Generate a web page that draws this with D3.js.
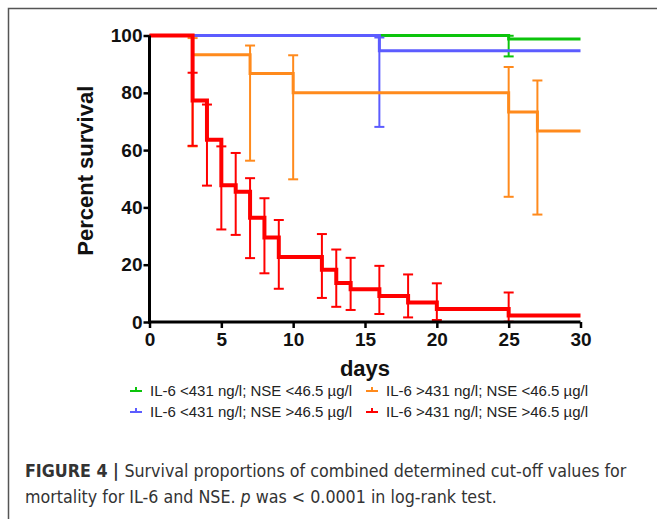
<!DOCTYPE html>
<html>
<head>
<meta charset="utf-8">
<script src="https://cdn.jsdelivr.net/npm/d3@7"></script>
<style>
  body { margin: 0; background: #fff; }
  svg { display: block; }
</style>
</head>
<body>
<div id="container"></div>
<script>
// Kaplan-Meier data (percent survival, 95% CI at each event)
const greenDays = [25];
const greenSurvival = [98.8];
const greenLower = [92.7];
const greenUpper = [99.9];

const blueDays = [16];
const blueSurvival = [94.7];
const blueLower = [68.1];
const blueUpper = [99.3];

const orangeDays = [3, 7, 10, 25, 27];
const orangeSurvival = [93.3, 86.7, 80.0, 73.3, 66.7];
const orangeLower = [61.3, 56.3, 49.8, 43.7, 37.5];
const orangeUpper = [99.1, 96.5, 93.1, 89.0, 84.3];

const redDays = [3, 4, 5, 6, 7, 8, 9, 12, 13, 14, 16, 18, 20, 25];
const redSurvival = [77.3, 63.6, 47.7, 45.5, 36.4, 29.5, 22.7, 18.2, 13.6, 11.4, 9.1, 6.8, 4.5, 2.3];
const redLower = [61.5, 47.6, 32.3, 30.4, 22.3, 17.0, 11.6, 8.4, 5.3, 4.2, 2.8, 1.6, 0.7, 0.1];
const redUpper = [87.0, 75.9, 61.3, 59.0, 50.2, 43.2, 35.6, 30.7, 25.3, 22.4, 19.6, 16.6, 13.5, 10.3];

const seriesLabels = [
    'IL-6 <431 ng/l; NSE <46.5 µg/l',
    'IL-6 <431 ng/l; NSE >46.5 µg/l',
    'IL-6 >431 ng/l; NSE <46.5 µg/l',
    'IL-6 >431 ng/l; NSE >46.5 µg/l'
];
const seriesColors = ['#0cc40c', '#5c5cff', '#ff8a1c', '#ff0000'];

const xTicks = [0, 5, 10, 15, 20, 25, 30];
const yTicks = [0, 20, 40, 60, 80, 100];

const series = [
    { days: greenDays, surv: greenSurvival, lo: greenLower, hi: greenUpper, width: 3 },
    { days: blueDays, surv: blueSurvival, lo: blueLower, hi: blueUpper, width: 3 },
    { days: orangeDays, surv: orangeSurvival, lo: orangeLower, hi: orangeUpper, width: 3 },
    { days: redDays, surv: redSurvival, lo: redLower, hi: redUpper, width: 4 }
];

const W = 657, H = 519;
const x = d3.scaleLinear().domain([0, 30]).range([149.5, 580.5]);
const y = d3.scaleLinear().domain([0, 100]).range([322, 35.5]);

const svg = d3.select('#container').append('svg')
    .attr('width', W)
    .attr('height', H);

// figure frame (open on the right and bottom, as cropped)
svg.append('path')
    .attr('d', `M8.5 ${H} V8.5 H${W}`)
    .style('fill', 'none')
    .style('stroke', '#555')
    .style('stroke-width', 1.5);

const line = d3.line()
    .x((d) => x(d[0]))
    .y((d) => y(d[1]))
    .curve(d3.curveStepAfter);

series.forEach((s, i) => {
    const color = seriesColors[i];
    const pts = [[0, 100]];
    s.days.forEach((d, j) => pts.push([d, s.surv[j]]));
    pts.push([30, s.surv[s.surv.length - 1]]);

    const g = svg.append('g');
    const bars = g.selectAll('g').data(s.days).enter().append('g');
    bars.append('line')
        .attr('x1', (d) => x(d)).attr('x2', (d) => x(d))
        .attr('y1', (d, j) => y(s.lo[j])).attr('y2', (d, j) => y(s.hi[j]));
    bars.append('line')
        .attr('x1', (d) => x(d) - 5).attr('x2', (d) => x(d) + 5)
        .attr('y1', (d, j) => y(s.lo[j])).attr('y2', (d, j) => y(s.lo[j]));
    bars.append('line')
        .attr('x1', (d) => x(d) - 5).attr('x2', (d) => x(d) + 5)
        .attr('y1', (d, j) => y(s.hi[j])).attr('y2', (d, j) => y(s.hi[j]));
    bars.selectAll('line')
        .style('stroke', color)
        .style('stroke-width', 2);

    g.append('path')
        .attr('d', line(pts))
        .style('fill', 'none')
        .style('stroke', color)
        .style('stroke-width', s.width)
        .style('stroke-linejoin', 'miter');
});

// axes
const xAxis = svg.append('g')
    .attr('transform', `translate(0 ${y(0)})`)
    .call(d3.axisBottom(x).tickValues(xTicks).tickSize(6).tickSizeOuter(0).tickPadding(5));
const yAxis = svg.append('g')
    .attr('transform', `translate(${x(0)} 0)`)
    .call(d3.axisLeft(y).tickValues(yTicks).tickSize(6).tickSizeOuter(0).tickPadding(1));

[xAxis, yAxis].forEach((a) => {
    a.select('.domain').style('stroke', '#000').style('stroke-width', 3);
    a.selectAll('.tick line').style('stroke', '#000').style('stroke-width', 2.5);
    a.selectAll('.tick text')
        .style('font-family', '"Liberation Sans", Arial, sans-serif')
        .style('font-weight', 'bold')
        .style('font-size', '19px')
        .style('fill', '#111');
});
xAxis.select('.domain').attr('d', `M${x(0) - 1.5},0H${x(30)}`);
yAxis.select('.domain').attr('d', `M0,${y(0) + 1.5}V${y(100)}`);

svg.append('text')
    .attr('transform', `translate(93 ${(y(0) + y(100)) / 2 - 8}) rotate(-90)`)
    .attr('text-anchor', 'middle')
    .style('font-family', '"Liberation Sans", Arial, sans-serif')
    .style('font-weight', 'bold')
    .style('font-size', '22px')
    .style('fill', '#111')
    .text('Percent survival');

svg.append('text')
    .attr('x', (x(0) + x(30)) / 2)
    .attr('y', 376)
    .attr('text-anchor', 'middle')
    .style('font-family', '"Liberation Sans", Arial, sans-serif')
    .style('font-weight', 'bold')
    .style('font-size', '22px')
    .style('fill', '#111')
    .text('days');

// legend, two columns
const legendCols = [130, 366];
const legendRows = [391, 412];
const legendItems = [0, 1, 2, 3];
const legend = svg.append('g').selectAll('g').data(legendItems).enter().append('g')
    .attr('transform', (d) => `translate(${legendCols[Math.floor(d / 2)]} ${legendRows[d % 2]})`);
legend.append('line')
    .attr('x1', 0).attr('x2', 12).attr('y1', 0).attr('y2', 0);
legend.append('line')
    .attr('x1', 6).attr('x2', 6).attr('y1', -4).attr('y2', 0);
legend.selectAll('line')
    .style('stroke', (d) => seriesColors[d])
    .style('stroke-width', 2);
legend.append('text')
    .attr('x', 20)
    .attr('y', 5)
    .style('font-family', '"Liberation Sans", Arial, sans-serif')
    .style('font-size', '15px')
    .style('fill', '#222')
    .text((d) => seriesLabels[d]);

// caption
const caption = svg.append('g')
    .style('font-family', '"Liberation Sans Narrow", "DejaVu Sans Condensed", sans-serif')
    .style('fill', '#333');
const cap1 = caption.append('text').attr('x', 25).attr('y', 477);
cap1.append('tspan').style('font-weight', 'bold').text('FIGURE 4 | ');
cap1.append('tspan').text('Survival proportions of combined determined cut-off values for');
const cap2 = caption.append('text').attr('x', 25).attr('y', 503);
cap2.append('tspan').text('mortality for IL-6 and NSE. ');
cap2.append('tspan').style('font-style', 'italic').text('p');
cap2.append('tspan').text(' was < 0.0001 in log-rank test.');

// size the caption font so line one spans the measured width
caption.style('font-size', '18px');
const w1 = cap1.node().getComputedTextLength();
caption.style('font-size', (18 * 602 / w1) + 'px');
</script>
</body>
</html>
